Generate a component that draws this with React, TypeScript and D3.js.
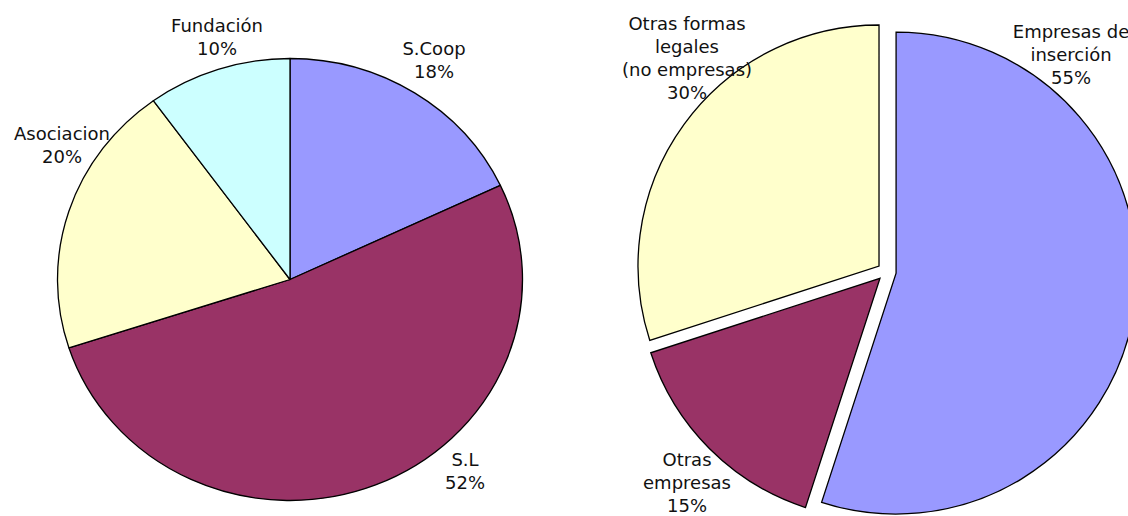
import React from "react";
import * as d3 from "d3";

// ---- Data ----
const leftCategories = ["S.Coop", "S.L", "Asociacion", "Fundación"];
const leftValues = [18, 52, 20, 10];
const leftColors = ["#9999FF", "#993366", "#FFFFCC", "#CCFFFF"];

const rightCategories = ["Empresas de\ninserción", "Otras\nempresas", "Otras formas\nlegales\n(no empresas)"];
const rightValues = [55, 15, 30];
const rightColors = ["#9999FF", "#993366", "#FFFFCC"];

// ---- Layout ----
const W = 1128;
const H = 516;
const FONT = "'DejaVu Sans', Verdana, sans-serif";
const FS = 18;
const LH = 23;

const left = { cx: 290, cy: 279.5, ry: 221, rx: 232.5 };
const right = { cx: 886.7, cy: 271.6, r: 241, explode: 9.5 };

// label anchor: center x, first baseline y
const leftLabelPos = [
  { x: 434, y: 55 },
  { x: 465, y: 466 },
  { x: 62, y: 140 },
  { x: 217, y: 32 },
];
const rightLabelPos = [
  { x: 1071, y: 38 },
  { x: 687, y: 466 },
  { x: 687, y: 30 },
];

function Label({ x, y, text }: { x: number; y: number; text: string }) {
  const lines = text.split("\n");
  return (
    <text x={x} y={y} textAnchor="middle" fontFamily={FONT} fontSize={FS} fill="#111">
      {lines.map((l, i) => (
        <tspan key={i} x={x} dy={i === 0 ? 0 : LH}>
          {l}
        </tspan>
      ))}
    </text>
  );
}

export default function App() {
  const pie = d3
    .pie<number>()
    .sort(null)
    .value((d) => d);

  const leftArcs = pie(leftValues);
  const leftArc = d3.arc<d3.PieArcDatum<number>>().innerRadius(0).outerRadius(left.ry);

  const rightArcs = pie(rightValues);
  const rightArc = d3.arc<d3.PieArcDatum<number>>().innerRadius(0).outerRadius(right.r);

  return (
    <svg
      width={W}
      height={H}
      viewBox={`0 0 ${W} ${H}`}
      style={{ position: "absolute", left: 0, top: 0, background: "#fff", overflow: "hidden" }}
    >
      <rect x={0} y={0} width={W} height={H} fill="#fff" />
      {/* Left pie (slightly stretched horizontally) */}
      <g transform={`translate(${left.cx},${left.cy}) scale(${left.rx / left.ry},1)`}>
        {leftArcs.map((a, i) => (
          <path
            key={i}
            d={leftArc(a) || ""}
            fill={leftColors[i]}
            stroke="#000"
            strokeWidth={1.3}
            strokeLinejoin="round"
            vectorEffect="non-scaling-stroke"
          />
        ))}
      </g>
      {leftArcs.map((a, i) => (
        <Label
          key={i}
          x={leftLabelPos[i].x}
          y={leftLabelPos[i].y}
          text={`${leftCategories[i]}\n${leftValues[i]}%`}
        />
      ))}

      {/* Right pie (exploded) */}
      <g transform={`translate(${right.cx},${right.cy})`}>
        {rightArcs.map((a, i) => {
          const mid = (a.startAngle + a.endAngle) / 2;
          const dx = Math.sin(mid) * right.explode;
          const dy = -Math.cos(mid) * right.explode;
          return (
            <path
              key={i}
              transform={`translate(${dx},${dy})`}
              d={rightArc(a) || ""}
              fill={rightColors[i]}
              stroke="#000"
              strokeWidth={1.3}
              strokeLinejoin="miter"
            />
          );
        })}
      </g>
      {rightArcs.map((a, i) => (
        <Label
          key={i}
          x={rightLabelPos[i].x}
          y={rightLabelPos[i].y}
          text={`${rightCategories[i]}\n${rightValues[i]}%`}
        />
      ))}
    </svg>
  );
}
